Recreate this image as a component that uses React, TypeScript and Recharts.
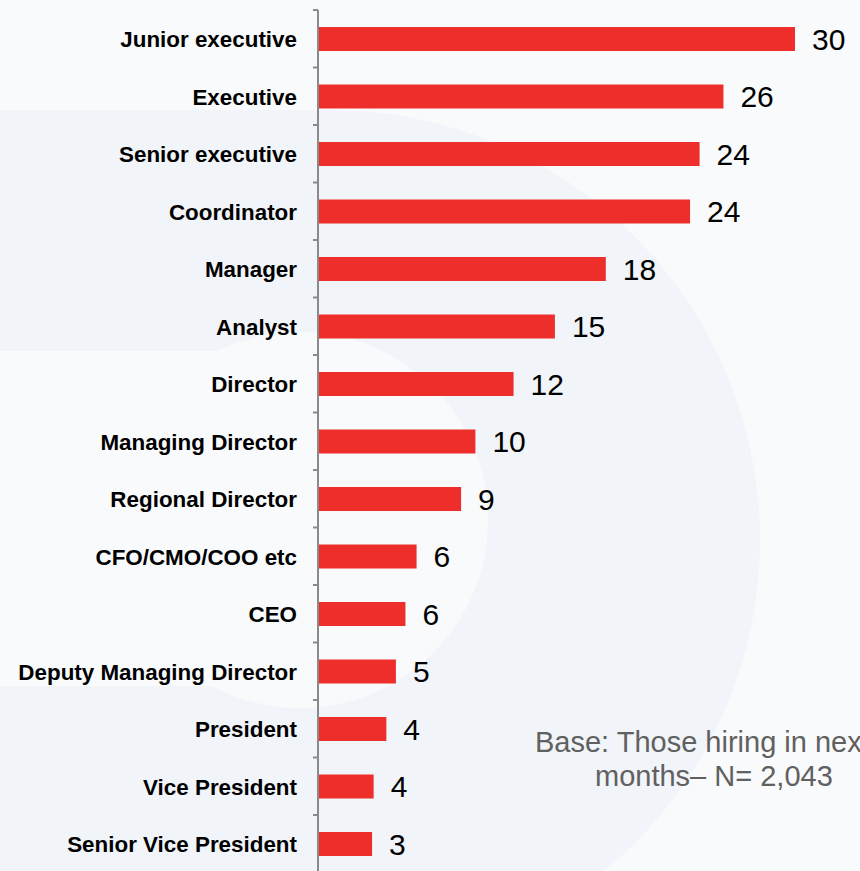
import { BarChart, Bar, XAxis, YAxis, LabelList } from "recharts";

// job levels, top to bottom
const categories = [
  "Junior executive",
  "Executive",
  "Senior executive",
  "Coordinator",
  "Manager",
  "Analyst",
  "Director",
  "Managing Director",
  "Regional Director",
  "CFO/CMO/COO etc",
  "CEO",
  "Deputy Managing Director",
  "President",
  "Vice President",
  "Senior Vice President",
];

// bar lengths (unrounded)
const values = [30, 25.5, 24.0, 23.4, 18.1, 14.9, 12.3, 9.9, 9.0, 6.2, 5.5, 4.9, 4.3, 3.5, 3.4];

// the rounded numbers printed next to each bar
const shownValues = [30, 26, 24, 24, 18, 15, 12, 10, 9, 6, 6, 5, 4, 4, 3];

const xTicks = [0, 30];

// the first line runs off the right edge of the slide, as in the source
const noteLines = ["Base: Those hiring in next", "months\u2013 N= 2,043"];

const FONT = '"Liberation Sans", Arial, Helvetica, sans-serif';
const AXIS_GREY = "#8a8a8a";
const TICK_SIZE = 5;
const TICK_MARGIN = 16;

const data = categories.map((name, i) => ({
  name,
  value: values[i],
  shown: shownValues[i],
}));

// label on the left plus the little tick marks between the bands
function CategoryTick(props: any) {
  const { x, y, payload, index } = props;
  const half = payload && payload.offset ? payload.offset : 28.75;
  const axisX = x + TICK_MARGIN + TICK_SIZE;
  const last = index === categories.length - 1;
  return (
    <g>
      <line x1={axisX - TICK_SIZE} x2={axisX} y1={y - half} y2={y - half} stroke={AXIS_GREY} strokeWidth={2} />
      {last && (
        <line x1={axisX - TICK_SIZE} x2={axisX} y1={y + half} y2={y + half} stroke={AXIS_GREY} strokeWidth={2} />
      )}
      <text
        x={x}
        y={y + 8.5}
        textAnchor="end"
        fill="#000"
        fontSize={22.4}
        fontWeight="bold"
        fontFamily={FONT}
      >
        {payload.value}
      </text>
    </g>
  );
}

function Backdrop() {
  // soft slide background shapes
  return (
    <svg width={860} height={871} style={{ position: "absolute", left: 0, top: 0 }}>
      <rect x={0} y={0} width={860} height={871} fill="#f9fafc" />
      <circle cx={330} cy={540} r={430} fill="#f1f4f9" />
      <rect x={0} y={110} width={330} height={241} fill="#f1f4f9" />
      <rect x={0} y={686} width={330} height={185} fill="#f1f4f9" />
      <rect x={0} y={351} width={300} height={335} fill="#f9fafc" />
      <circle cx={300} cy={520} r={188} fill="#f9fafc" />
    </svg>
  );
}

export default function App() {
  return (
    <div
      style={{
        position: "absolute",
        left: 0,
        top: 0,
        width: 860,
        height: 871,
        overflow: "hidden",
        fontFamily: FONT,
      }}
    >
      <Backdrop />
      <div style={{ position: "absolute", left: 0, top: 0 }}>
        <BarChart
          layout="vertical"
          width={860}
          height={880}
          data={data}
          margin={{ top: 10, right: 65, bottom: 7.5, left: 0 }}
        >
          <XAxis type="number" domain={[0, 30]} ticks={xTicks} hide />
          <YAxis
            type="category"
            dataKey="name"
            width={318}
            interval={0}
            axisLine={{ stroke: AXIS_GREY, strokeWidth: 2 }}
            tickLine={false}
            tickSize={TICK_SIZE}
            tickMargin={TICK_MARGIN}
            tick={<CategoryTick />}
          />
          <Bar dataKey="value" fill="#ee2e2a" barSize={24} isAnimationActive={false}>
            <LabelList
              dataKey="shown"
              position="right"
              offset={17}
              fill="#000"
              fontSize={30}
              fontFamily={FONT}
            />
          </Bar>
        </BarChart>
      </div>
      <div
        style={{
          position: "absolute",
          left: 535,
          top: 725,
          color: "#606060",
          fontSize: 29,
          lineHeight: "34px",
          whiteSpace: "nowrap",
        }}
      >
        <div>{noteLines[0]}</div>
        <div style={{ paddingLeft: 60 }}>{noteLines[1]}</div>
      </div>
    </div>
  );
}
